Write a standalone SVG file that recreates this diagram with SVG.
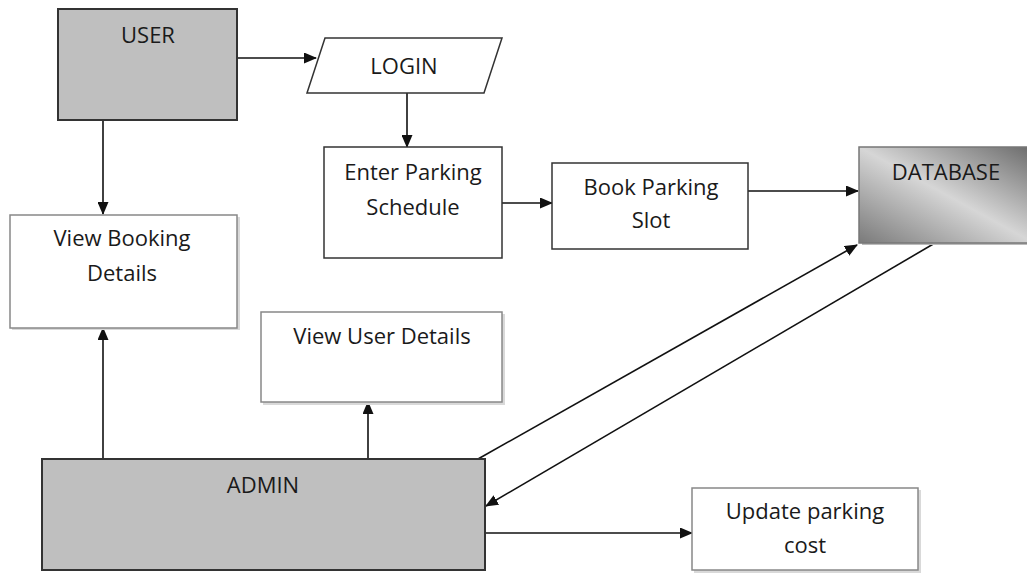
<svg xmlns="http://www.w3.org/2000/svg" width="1027" height="573" viewBox="0 0 1027 573">
<style>
.t{font-family:"Open Sans","Liberation Sans",Arial,sans-serif;font-size:22px;fill:#1a1a1a;text-anchor:middle}
.g{fill:#bfbfbf;stroke:#333;stroke-width:2}
.w{fill:#fff;stroke:#888;stroke-width:1.5}
.wd{fill:#fff;stroke:#333;stroke-width:1.5}
.sh{fill:#d9d9d9}
.c{stroke:#111;stroke-width:1.6;fill:none;marker-end:url(#ah)}
</style>
<defs>
<marker id="ah" markerWidth="13" markerHeight="11" refX="12" refY="5.5" orient="auto" markerUnits="userSpaceOnUse">
<path d="M0,0 L13,5.5 L0,11 Z" fill="#111"/>
</marker>
<linearGradient id="dbg" x1="1" y1="0" x2="0" y2="1">
<stop offset="0" stop-color="#6a6a6a"/>
<stop offset="0.5" stop-color="#d6d6d6"/>
<stop offset="1" stop-color="#7a7a7a"/>
</linearGradient>
</defs>
<g id="connectors">
<line class="c" x1="237" y1="58" x2="316" y2="58"/>
<line class="c" x1="407" y1="93" x2="407" y2="147"/>
<line class="c" x1="502" y1="203" x2="552" y2="203"/>
<line class="c" x1="748" y1="191" x2="858" y2="191"/>
<line class="c" x1="103" y1="120" x2="103" y2="214"/>
<line class="c" x1="103" y1="459" x2="103" y2="328"/>
<line class="c" x1="368" y1="459" x2="368" y2="402"/>
<line class="c" x1="478" y1="459" x2="857" y2="245"/>
<line class="c" x1="935" y1="243" x2="486" y2="506"/>
<line class="c" x1="485" y1="533" x2="692" y2="533"/>
</g>
<g id="user">
<rect class="g" x="58" y="9" width="179" height="111"/>
<text class="t" x="148" y="43">USER</text>
</g>
<g id="login">
<polygon points="307,93 325,38 502,38 484,93" fill="#fff" stroke="#333" stroke-width="1.5"/>
<text class="t" x="404" y="74">LOGIN</text>
</g>
<g id="enter-parking">
<rect class="wd" x="324" y="147" width="178" height="111"/>
<text class="t" x="413" y="180">Enter Parking</text>
<text class="t" x="413" y="215">Schedule</text>
</g>
<g id="book-parking">
<rect class="wd" x="552" y="163" width="196" height="86"/>
<text class="t" x="651" y="195">Book Parking</text>
<text class="t" x="651" y="228">Slot</text>
</g>
<g id="database">
<rect x="862" y="149" width="170" height="96" fill="#bbb"/>
<rect x="859" y="147" width="175" height="96" fill="url(#dbg)" stroke="#777" stroke-width="1.5"/>
<text class="t" x="946" y="180">DATABASE</text>
</g>
<g id="view-booking">
<rect class="sh" x="12" y="217" width="228" height="113"/>
<rect class="w" x="10" y="215" width="227" height="113"/>
<text class="t" x="122" y="246">View Booking</text>
<text class="t" x="122" y="281">Details</text>
</g>
<g id="view-user">
<rect class="sh" x="263" y="314" width="242" height="91"/>
<rect class="w" x="261" y="312" width="241" height="90"/>
<text class="t" x="382" y="344">View User Details</text>
</g>
<g id="admin">
<rect class="g" x="42" y="459" width="443" height="111"/>
<text class="t" x="263" y="493">ADMIN</text>
</g>
<g id="update-cost">
<rect class="sh" x="694" y="490" width="227" height="83"/>
<rect class="w" x="692" y="488" width="226" height="82"/>
<text class="t" x="805" y="519">Update parking</text>
<text class="t" x="805" y="553">cost</text>
</g>
</svg>
